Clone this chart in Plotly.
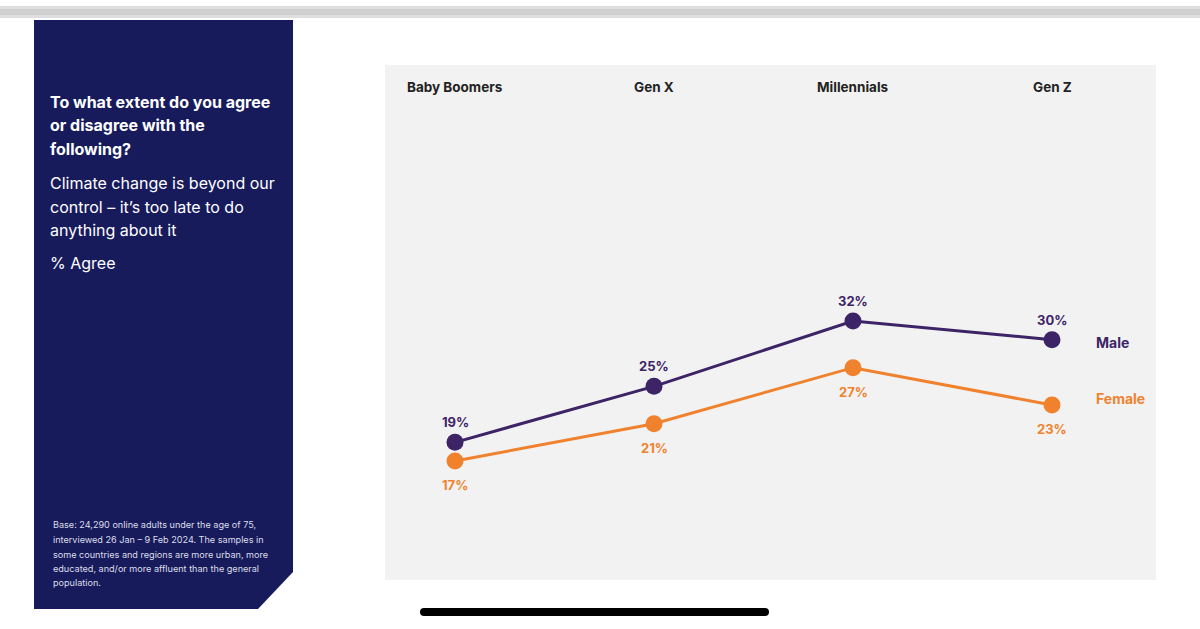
import plotly.graph_objects as go

W, H = 1200, 629

generations = ["Baby Boomers", "Gen X", "Millennials", "Gen Z"]
male = [19, 25, 32, 30]
female = [17, 21, 27, 23]
value_labels_male = ["19%", "25%", "32%", "30%"]
value_labels_female = ["17%", "21%", "27%", "23%"]

title_lines = ["To what extent do you agree", "or disagree with the", "following?"]
subtitle_lines = ["Climate change is beyond our", "control \u2013 it\u2019s too late to do", "anything about it"]
measure = "% Agree"
footnote_lines = [
    "Base: 24,290 online adults under the age of 75,",
    "interviewed 26 Jan \u2013 9 Feb 2024. The samples in",
    "some countries and regions are more urban, more",
    "educated, and/or more affluent than the general",
    "population.",
]

NAVY = "#171b5c"
PURPLE = "#3d2466"
ORANGE = "#f0822e"
FONT = "Inter"

def px(x):
    return x / W

def py(y):
    return 1 - y / H

fig = go.Figure()
idx = list(range(len(generations)))
fig.add_trace(go.Scatter(x=idx, y=male, mode="lines+markers",
                         line=dict(color=PURPLE, width=3),
                         marker=dict(color=PURPLE, size=17), hoverinfo="skip"))
fig.add_trace(go.Scatter(x=idx, y=female, mode="lines+markers",
                         line=dict(color=ORANGE, width=3),
                         marker=dict(color=ORANGE, size=17), hoverinfo="skip"))

ann = []
# category headers
for i, g in enumerate(generations):
    ann.append(dict(x=i, xref="x", y=py(87), yref="paper", text=f"<b>{g}</b>",
                    showarrow=False, xanchor="center", yanchor="middle",
                    font=dict(family=FONT, size=13.5, color="#222222")))
# value labels
for i, (v, t) in enumerate(zip(male, value_labels_male)):
    ann.append(dict(x=i, y=v, xref="x", yref="y", text=f"<b>{t}</b>", showarrow=False,
                    yshift=20, xanchor="center", yanchor="middle",
                    font=dict(family=FONT, size=13, color=PURPLE)))
for i, (v, t) in enumerate(zip(female, value_labels_female)):
    ann.append(dict(x=i, y=v, xref="x", yref="y", text=f"<b>{t}</b>", showarrow=False,
                    yshift=-24, xanchor="center", yanchor="middle",
                    font=dict(family=FONT, size=13, color=ORANGE)))
# series labels
ann.append(dict(x=px(1094), xref="paper", y=py(342), yref="paper", text="<b>Male</b>",
                showarrow=False, xanchor="left", yanchor="middle",
                font=dict(family=FONT, size=14, color=PURPLE)))
ann.append(dict(x=px(1094), xref="paper", y=py(398), yref="paper", text="<b>Female</b>",
                showarrow=False, xanchor="left", yanchor="middle",
                font=dict(family=FONT, size=14, color=ORANGE)))

# panel text
for t, yy in zip(title_lines, [102, 125, 149]):
    ann.append(dict(x=px(48), xref="paper", y=py(yy), yref="paper", text=f"<b>{t}</b>",
                    showarrow=False, xanchor="left", yanchor="middle",
                    font=dict(family=FONT, size=16, color="white")))
for t, yy in zip(subtitle_lines, [183, 207, 230]):
    ann.append(dict(x=px(48), xref="paper", y=py(yy), yref="paper", text=t,
                    showarrow=False, xanchor="left", yanchor="middle",
                    font=dict(family=FONT, size=16, color="white")))
ann.append(dict(x=px(48), xref="paper", y=py(263), yref="paper", text=measure,
                showarrow=False, xanchor="left", yanchor="middle",
                font=dict(family=FONT, size=16, color="white")))
for t, yy in zip(footnote_lines, [524, 539, 554, 568, 582]):
    ann.append(dict(x=px(51), xref="paper", y=py(yy), yref="paper", text=t,
                    showarrow=False, xanchor="left", yanchor="middle",
                    font=dict(family=FONT, size=9.1, color="#dcdde8")))

shapes = [
    # top bar
    dict(type="rect", xref="paper", yref="paper", x0=0, x1=1, y0=py(18), y1=py(6),
         fillcolor="#dedede", line=dict(width=0), layer="below"),
    dict(type="rect", xref="paper", yref="paper", x0=0, x1=1, y0=py(15), y1=py(9),
         fillcolor="#d0d0d0", line=dict(width=0), layer="below"),
    # navy panel with cut corner
    dict(type="path", xref="paper", yref="paper",
         path=f"M {px(34)},{py(20)} L {px(293)},{py(20)} L {px(293)},{py(572)} "
              f"L {px(258)},{py(609)} L {px(34)},{py(609)} Z",
         fillcolor=NAVY, line=dict(width=0), layer="below"),
    # home indicator
    dict(type="path", xref="paper", yref="paper",
         path=f"M {px(424)},{py(608)} L {px(765)},{py(608)} Q {px(769)},{py(608)} {px(769)},{py(612)} "
              f"Q {px(769)},{py(616)} {px(765)},{py(616)} L {px(424)},{py(616)} "
              f"Q {px(420)},{py(616)} {px(420)},{py(612)} Q {px(420)},{py(608)} {px(424)},{py(608)} Z",
         fillcolor="black", line=dict(width=0), layer="above"),
]

# plot area pixel mapping
x_left, x_right = 385, 1156
y_top, y_bot = 65, 580
cx0, dcx = 455, 199.0
y17, ppp = 461, 9.333
xr = [(x_left - cx0) / dcx, (x_right - cx0) / dcx]
yr = [17 - (y_bot - y17) / ppp, 17 + (y17 - y_top) / ppp]

fig.update_layout(
    width=W, height=H, margin=dict(l=0, r=0, t=0, b=0),
    paper_bgcolor="white", plot_bgcolor="#f2f2f2",
    showlegend=False,
    xaxis=dict(domain=[px(x_left), px(x_right)], range=xr, visible=False, fixedrange=True),
    yaxis=dict(domain=[py(y_bot), py(y_top)], range=yr, visible=False, fixedrange=True),
    annotations=ann, shapes=shapes,
    font=dict(family=FONT),
)

fig.write_html("out.html", config={"displayModeBar": False})
